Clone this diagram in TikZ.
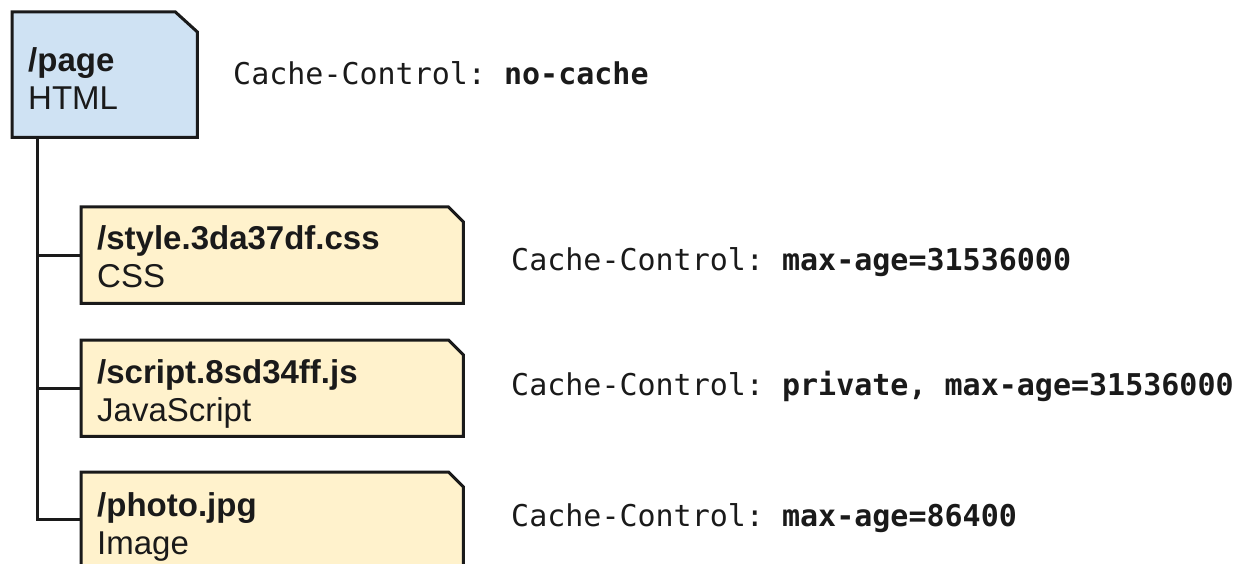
\documentclass[tikz,border=0pt]{standalone}
\usepackage{fontspec}
\setmainfont{Liberation Sans}
\setmonofont{DejaVu Sans Mono}
\usetikzlibrary{calc}

\definecolor{pagefill}{HTML}{CFE2F3}
\definecolor{assetfill}{HTML}{FFF2CC}
\definecolor{ink}{HTML}{1A1A1A}

\tikzset{
  boxarea/.style={rectangle, draw=none, fill=none, inner sep=0pt},
  boxline/.style={draw=ink, line width=3pt, line join=miter},
  wire/.style={draw=ink, line width=3pt},
  label/.style={anchor=base west, inner sep=0pt, text=ink,
                font=\fontsize{33}{38}\selectfont},
  header/.style={anchor=base west, inner sep=0pt, text=ink,
                 font=\fontsize{30}{36}\selectfont\ttfamily},
}

% name, left, top, width, height, fill, corner cut x, corner cut y
\newcommand\docbox[8]{%
  \node[boxarea, minimum width=#4, minimum height=#5, anchor=north west] (#1) at (#2,#3) {};
  \filldraw[boxline, fill=#6] (#1.north west) -- ([xshift=-#7]#1.north east)
    -- ([yshift=-#8]#1.north east) -- (#1.south east) -- (#1.south west) -- cycle;
}
\newcommand\twolines[2]{\vtop{\baselineskip=38pt\hbox{\bfseries #1}\hbox{#2}}}

\begin{document}
\begin{tikzpicture}[x=1pt, y=-1pt]
  \useasboundingbox (0,0) rectangle (1243,564);
  \clip (0,0) rectangle (1243,564);

  % the page and its sub-resources
  \docbox{page}{12}{12}{185}{125}{pagefill}{22}{20}
  \docbox{css}{81}{207}{382}{96}{assetfill}{15}{15}
  \docbox{js}{81}{340}{382}{96}{assetfill}{15}{15}
  \docbox{photo}{81}{472}{382}{94}{assetfill}{15}{15}

  % tree connectors
  \coordinate (trunk) at ([xshift=25pt]page.south west);
  \draw[wire] (trunk) |- (photo.west);
  \draw[wire] (trunk |- css.west) -- (css.west);
  \draw[wire] (trunk |- js.west) -- (js.west);

  % resource labels
  \node[label] (page-text)  at (28,72)  {\twolines{/page}{HTML}};
  \node[label] (css-text)   at (97,250) {\twolines{/style.3da37df.css}{CSS}};
  \node[label] (js-text)    at (97,383) {\twolines{/script.8sd34ff.js}{JavaScript}};
  \node[label] (photo-text) at (97,516) {\twolines{/photo.jpg}{Image}};

  % caching headers
  \node[header] (page-hdr)  at (233,85)  {Cache-Control: \textbf{no-cache}};
  \node[header] (css-hdr)   at (511,271) {Cache-Control: \textbf{max-age=31536000}};
  \node[header] (js-hdr)    at (511,395) {Cache-Control: \textbf{private, max-age=31536000}};
  \node[header] (photo-hdr) at (511,526) {Cache-Control: \textbf{max-age=86400}};
\end{tikzpicture}
\end{document}
